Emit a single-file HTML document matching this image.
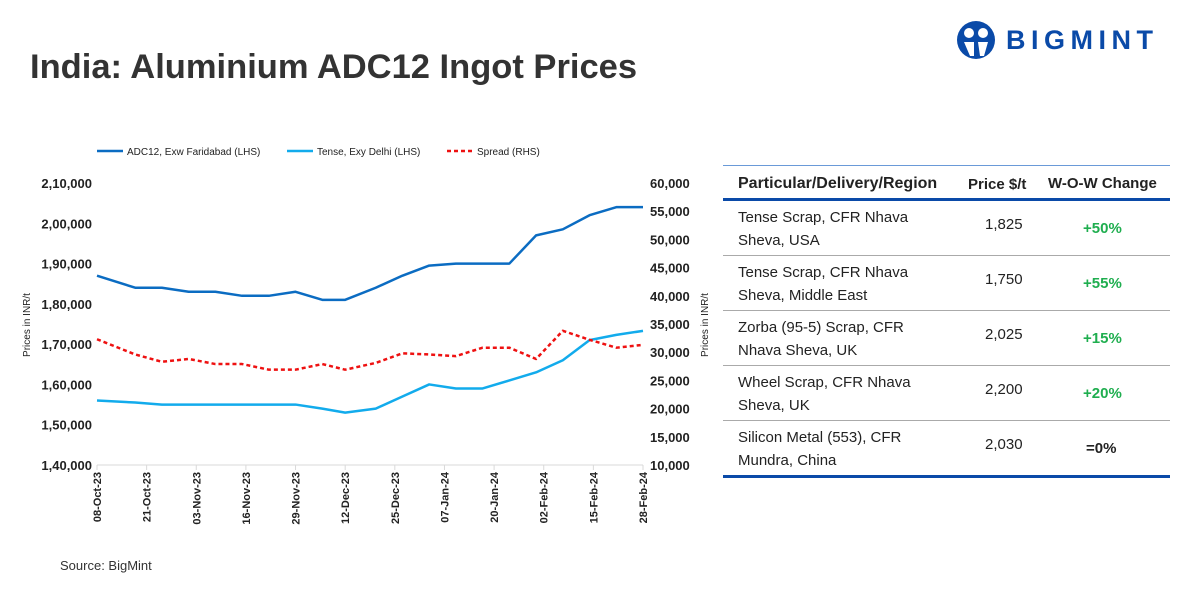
<!DOCTYPE html>
<html><head><meta charset="utf-8"><style>
body{margin:0;width:1200px;height:600px;background:#fff;font-family:"Liberation Sans",sans-serif;overflow:hidden;position:relative}
.t{position:absolute}
</style></head><body>
<div class="t" style="left:30px;top:48px;font-size:34.5px;font-weight:bold;color:#333;letter-spacing:0px">India: Aluminium ADC12 Ingot Prices</div>
<div class="t" style="left:956px;top:20px;width:210px;height:40px">
<svg width="40" height="40" viewBox="0 0 40 40"><circle cx="20" cy="20" r="19" fill="#0a4aa8"/><circle cx="13" cy="13" r="5" fill="#fff"/><circle cx="27" cy="13" r="5" fill="#fff"/><path d="M8 22h10v14h-4zM22 22h10l-4 14h-4z" fill="#fff"/></svg>
<span style="position:absolute;left:50px;top:5px;font-size:27px;font-weight:bold;color:#0a4aa8;letter-spacing:5.5px">BIGMINT</span></div>
<svg class="t" style="left:0;top:0" width="1200" height="600" id="chart"></svg>
<div class="t" style="left:60px;top:558px;font-size:13px;color:#333">Source: BigMint</div>
<div class="t" style="left:723px;top:165px;width:447px;font-size:15px;color:#222">
<div style="border-top:1px solid #6a9ad8;border-bottom:3px solid #0a4aa8;height:32px;position:relative;font-weight:bold">
<span style="position:absolute;left:15px;top:9px;font-size:16px">Particular/Delivery/Region</span>
<span style="position:absolute;left:245px;top:10px;font-size:15px">Price $/t</span>
<span style="position:absolute;left:325px;top:9px;font-size:15px">W-O-W Change</span></div>
<div id="rows"></div>
<div style="border-top:3px solid #0a4aa8"></div></div>
<script>
const dates=["2023-10-08","2023-10-18","2023-10-25","2023-11-01","2023-11-08","2023-11-15","2023-11-22","2023-11-29","2023-12-06","2023-12-12","2023-12-20","2023-12-27","2024-01-03","2024-01-10","2024-01-17","2024-01-24","2024-01-31","2024-02-07","2024-02-14","2024-02-21","2024-02-28"];
const adc12=[187000,184000,184000,183000,183000,182000,182000,183000,181000,181000,184000,187000,189500,190000,190000,190000,197000,198500,202000,204000,204000];
const tense=[156000,155500,155000,155000,155000,155000,155000,155000,154000,153000,154000,157000,160000,159000,159000,161000,163000,166000,171000,172300,173300];
const spread=[32300,29600,28300,28800,27900,27900,26900,26900,27900,26900,28100,29800,29600,29300,30800,30800,28800,33800,32200,30800,31300];
const xLabels=["08-Oct-23","21-Oct-23","03-Nov-23","16-Nov-23","29-Nov-23","12-Dec-23","25-Dec-23","07-Jan-24","20-Jan-24","02-Feb-24","15-Feb-24","28-Feb-24"];
const lTicks=[140000,150000,160000,170000,180000,190000,200000,210000];
const rTicks=[10000,15000,20000,25000,30000,35000,40000,45000,50000,55000,60000];
const svg=document.getElementById('chart');const NS="http://www.w3.org/2000/svg";
const t0=Date.parse("2023-10-08"),t1=Date.parse("2024-02-28");
const X=d=>97+(Date.parse(d)-t0)/(t1-t0)*546;
const lab=s=>{const p=s.split('-');const m={Oct:9,Nov:10,Dec:11,Jan:0,Feb:1}[p[1]];return new Date(Date.UTC(2000+ +p[2],m,+p[0])).toISOString().slice(0,10)};
const YL=v=>465-(v-140000)/70000*282, YR=v=>465-(v-10000)/50000*282;
function el(n,a,txt){const e=document.createElementNS(NS,n);for(const k in a)e.setAttribute(k,a[k]);if(txt!=null)e.textContent=txt;svg.appendChild(e);return e}
const fmt=v=>{let s=String(v);let l=s.slice(-3),r=s.slice(0,-3);return r.replace(/\B(?=(\d{2})+(?!\d))/g,",")+","+l};
let ax=el('line',{x1:97,y1:465,x2:643,y2:465,stroke:'#d9d9d9'});


lTicks.forEach(v=>{const e=el('text',{x:92,y:YL(v)+5,'text-anchor':'end','font-size':13,'font-weight':'bold',fill:'#222'},fmt(v));

});
rTicks.forEach(v=>{const e=el('text',{x:650,y:YR(v)+5,'font-size':13,'font-weight':'bold',fill:'#222'},v.toLocaleString('en-US'));

});
xLabels.forEach(s=>{const x=X(lab(s));el('line',{x1:x,y1:465,x2:x,y2:470,stroke:'#d9d9d9'});const e=el('text',{x:0,y:0,transform:`translate(${x+4},472) rotate(-90)`,'text-anchor':'end','font-size':11,'font-weight':'bold',fill:'#222'},s);

});
let yt=el('text',{transform:'translate(30,325) rotate(-90)','text-anchor':'middle','font-size':10,fill:'#222'},'Prices in INR/t');


let yt2=el('text',{transform:'translate(708,325) rotate(-90)','text-anchor':'middle','font-size':10,fill:'#222'},'Prices in INR/t');


function line(vals,Y,color,dash,name){const p=el('polyline',{points:vals.map((v,i)=>X(dates[i])+','+Y(v)).join(' '),fill:'none',stroke:color,'stroke-width':2.5,'stroke-dasharray':dash||'','stroke-linejoin':'round'});

}
line(adc12,YL,'#0b6cc2','', 'adc12-line');
line(tense,YL,'#12abec','', 'tense-line');
line(spread,YR,'#ee1111','4,3','spread-line');
const leg=[["ADC12, Exw Faridabad (LHS)",'#0b6cc2','',97],["Tense, Exy Delhi (LHS)",'#12abec','',287],["Spread (RHS)",'#ee1111','4,3',447]];
leg.forEach(([t,c,d,x])=>{el('line',{x1:x,y1:151,x2:x+26,y2:151,stroke:c,'stroke-width':2.5,'stroke-dasharray':d});const e=el('text',{x:x+30,y:155,'font-size':10,fill:'#222'},t);

});
const rows=[["Tense Scrap, CFR Nhava","Sheva, USA","1,825","+50%"],["Tense Scrap, CFR Nhava","Sheva, Middle East","1,750","+55%"],["Zorba (95-5) Scrap, CFR","Nhava Sheva, UK","2,025","+15%"],["Wheel Scrap, CFR Nhava","Sheva, UK","2,200","+20%"],["Silicon Metal (553), CFR","Mundra, China","2,030","=0%"]];
const R=document.getElementById('rows');
rows.forEach((r,i)=>{const d=document.createElement('div');


d.style.cssText='position:relative;height:54px;'+(i<4?'border-bottom:1px solid #aaa':'');
const g=r[3]=='=0%';
d.innerHTML=`<span style="position:absolute;left:15px;top:5px;line-height:23px">${r[0]}<br>${r[1]}</span><span style="position:absolute;left:262px;top:15px">${r[2]}</span><span style="position:absolute;left:${g?363:360}px;top:19px;font-weight:bold;color:${g?'#222':'#1fae4f'}">${r[3]}</span>`;
R.appendChild(d);});
</script></body></html>
